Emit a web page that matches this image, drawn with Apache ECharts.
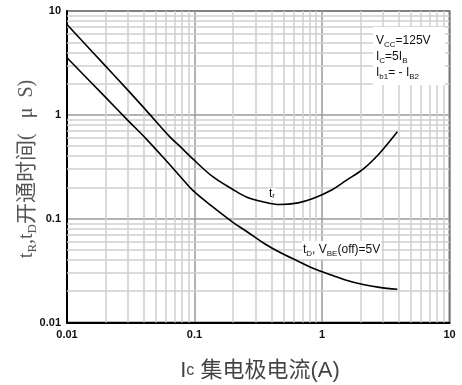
<!DOCTYPE html>
<html><head><meta charset="utf-8">
<script src="https://cdn.jsdelivr.net/npm/echarts@6/dist/echarts.min.js"></script>
<style>html,body{margin:0;padding:0;background:#fff}#c{width:462px;height:385px}</style>
</head><body><div id="c"></div>
<script>
// Collector current (A)
const currentA = [0.01,0.02,0.03,0.0416,0.0641,0.0767,0.0975,0.14,0.2,0.255,0.35,0.466,0.65,0.849,1.2,1.55,2.1,2.82,3.9];
// rise time tr (us)
const trUs = [7.4,2.96,1.73,1.11,0.614,0.499,0.374,0.252,0.191,0.162,0.145,0.137,0.142,0.156,0.19,0.234,0.30,0.425,0.686];
// delay time tD (us)
const tdUs = [3.55,1.48,0.885,0.59,0.33,0.258,0.186,0.129,0.0923,0.0757,0.058,0.0474,0.0389,0.0333,0.0285,0.0255,0.0232,0.0218,0.0209];
const decadeTicks = [0.01,0.1,1,10];
const minorDecades = [0.01,0.1,1];
const minorMultipliers = [2,3,4,5,6,7,8,9];

const minorValues = [];
minorDecades.forEach(d => minorMultipliers.forEach(m => minorValues.push(+(d*m).toPrecision(6))));

function tickFmt(v){
  const r = decadeTicks.find(t => Math.abs(Math.log10(t) - Math.log10(v)) < 1e-6);
  return r !== undefined ? String(r) : '';
}

const chart = echarts.init(document.getElementById('c'), null, {renderer:'canvas'});
const axisLabel = {fontFamily:'Arial, Liberation Sans', fontWeight:'bold', fontSize:11, color:'#111', formatter: tickFmt};
const SANS = 'Arial, Liberation Sans, Noto Sans CJK SC';
const SERIF = 'Liberation Serif, DejaVu Serif, Noto Sans CJK SC';

const option = {
  animation:false,
  backgroundColor:'#fff',
  grid:{left:67, right:12.5, top:11, bottom:62.5, show:true, borderColor:'#000', borderWidth:1.5},
  xAxis:{
    type:'log', logBase:10, min:0.01, max:10, interval:1,
    axisLine:{show:true, onZero:false, lineStyle:{color:'#000', width:2}},
    axisTick:{show:false},
    splitLine:{show:true, lineStyle:{color:'#9a9a9a', width:1.5}},
    axisLabel:Object.assign({margin:7}, axisLabel)
  },
  yAxis:{
    type:'log', logBase:10, min:0.01, max:10, interval:1,
    axisLine:{show:true, onZero:false, lineStyle:{color:'#000', width:2}},
    axisTick:{show:false},
    splitLine:{show:true, lineStyle:{color:'#9a9a9a', width:1.5}},
    axisLabel:Object.assign({margin:6}, axisLabel)
  },
  series:[
    {
      type:'line', data:[], z:1, silent:true,
      markLine:{
        silent:true, symbol:['none','none'], animation:false,
        label:{show:false},
        lineStyle:{color:'#cfcfcf', width:1.5, type:'solid'},
        emphasis:{disabled:true},
        data: minorValues.map(v => ({xAxis:v})).concat(minorValues.map(v => ({yAxis:v})))
      }
    },
    {
      name:'tr', type:'line', smooth:0.35, symbol:'none', z:5,
      lineStyle:{color:'#000', width:1.6},
      data: currentA.map((x,i) => [x, trUs[i]])
    },
    {
      name:'tD', type:'line', smooth:0.35, symbol:'none', z:5,
      lineStyle:{color:'#000', width:1.6},
      data: currentA.map((x,i) => [x, tdUs[i]])
    }
  ],
  graphic:[
    {type:'rect', left:373, top:27, z:50, shape:{width:72, height:58}, style:{fill:'#fff'}},
    {type:'text', left:376, top:35, z:60, style:{
      text:'{a|V}{b|CC}{a|=125V}\n{a|I}{b|C}{a|=5I}{b|B}\n{a|I}{b|b1}{a|= - I}{b|B2}',
      rich:{
        a:{fontFamily:SANS, fontSize:12, fill:'#111', lineHeight:16},
        b:{fontFamily:SANS, fontSize:8, fill:'#111', lineHeight:9, verticalAlign:'bottom'}
      }
    }},
    {type:'text', left:268, top:188, z:60, style:{
      text:'{a|t}{b|r}', backgroundColor:'#fff', padding:[0,1,0,1],
      rich:{
        a:{fontFamily:SANS, fontSize:12, fill:'#111', lineHeight:12},
        b:{fontFamily:SANS, fontSize:8, fill:'#111', lineHeight:7, verticalAlign:'bottom'}
      }
    }},
    {type:'text', left:302, top:241, z:60, style:{
      text:'{a|t}{b|D}{a|, V}{b|BE}{a|(off)=5V}', backgroundColor:'#fff', padding:[1,1,1,1],
      rich:{
        a:{fontFamily:SANS, fontSize:12, fill:'#111', lineHeight:16},
        b:{fontFamily:SANS, fontSize:8, fill:'#111', lineHeight:9, verticalAlign:'bottom'}
      }
    }},
    // x axis title
    {type:'text', x:260, y:371, z:60, style:{
      text:'{i|I}{c|c}{z| 集电极电流(A)}', align:'center', verticalAlign:'middle',
      rich:{
        i:{fontFamily:SANS, fontSize:22, fill:'#444', lineHeight:26},
        c:{fontFamily:SANS, fontSize:16, fill:'#444', lineHeight:26},
        z:{fontFamily:SANS, fontSize:22, fill:'#444', lineHeight:26}
      }
    }},
    // y axis title
    {type:'text', x:27, y:169, rotation:Math.PI/2, z:60, style:{
      text:'{t|t}{s|R}{t|,t}{s|D}{z|开通时间}{t|(   μ  S)}', align:'center', verticalAlign:'middle',
      rich:{
        t:{fontFamily:SERIF, fontSize:20, fill:'#555', lineHeight:24},
        s:{fontFamily:SERIF, fontSize:13, fill:'#555', lineHeight:17, verticalAlign:'bottom'},
        z:{fontFamily:SERIF, fontSize:21, fill:'#555', lineHeight:24}
      }
    }}
  ]
};
chart.setOption(option);
</script></body></html>
